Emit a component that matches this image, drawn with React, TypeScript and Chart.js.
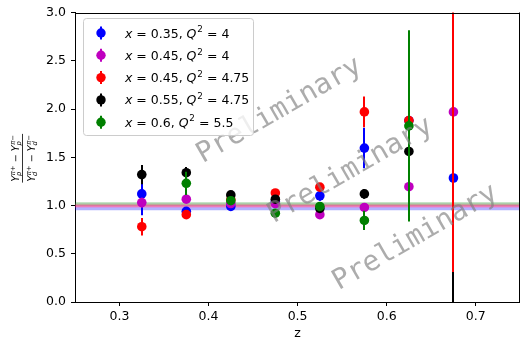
import React, { useEffect, useRef } from 'react';
import { Chart, registerables } from 'chart.js';

Chart.register(...registerables);

// ---- data ----
const zValues = [0.325, 0.375, 0.425, 0.475, 0.525, 0.575, 0.625, 0.675];

const seriesX = ['0.35', '0.45', '0.45', '0.55', '0.6'];
const seriesQ2 = ['4', '4', '4.75', '4.75', '5.5'];
const seriesColors = ['#0000ff', '#bf00bf', '#ff0000', '#000000', '#008000'];

const blueY = [1.12, 0.94, 0.99, 1.04, 1.10, 1.595, 1.88, 1.285];
const blueErr = [0.22, 0.04, 0.03, 0.04, 0.05, 0.21, 0.5, 0.8];
const magentaY = [1.03, 1.065, 1.02, 1.02, 0.905, 0.98, 1.195, 1.97];
const magentaErr = [0.05, 0.04, 0.03, 0.03, 0.03, 0.04, 0.3, 1.0];
const redY = [0.78, 0.905, 1.06, 1.13, 1.19, 1.97, 1.88, 3.4];
const redErr = [0.09, 0.03, 0.03, 0.03, 0.03, 0.16, 0.6, 3.6];
const blackY = [1.32, 1.34, 1.11, 1.065, 0.97, 1.12, 1.56, -1.2];
const blackErr = [0.1, 0.06, 0.03, 0.03, 0.03, 0.05, 0.5, 1.51];
const greenY: (number | null)[] = [null, 1.23, 1.05, 0.92, 0.99, 0.845, 1.825, null];
const greenErr: (number | null)[] = [null, 0.12, 0.03, 0.04, 0.04, 0.1, 0.99, null];

const seriesY = [blueY, magentaY, redY, blackY, greenY];
const seriesErr = [blueErr, magentaErr, redErr, blackErr, greenErr];

// reference bands near 1 (one per series)
const bandLevels = [0.965, 0.988, 0.997, 1.008, 1.02];

const xTicks = [0.3, 0.4, 0.5, 0.6, 0.7];
const yTicks = [0, 0.5, 1.0, 1.5, 2.0, 2.5, 3.0];
const xLabel = 'z';
const watermarkText = 'Preliminary';

// ---- math text helper ----
type Part = { t: string; it?: boolean; sup?: string; sub?: string };
const FAM = '"DejaVu Sans"';

function mathWidth(ctx: CanvasRenderingContext2D, parts: Part[], size: number) {
  let w = 0;
  for (const p of parts) {
    ctx.font = `${p.it ? 'italic ' : ''}${size}px ${FAM}`;
    w += ctx.measureText(p.t).width;
    if (p.sup || p.sub) {
      ctx.font = `italic ${size * 0.7}px ${FAM}`;
      const a = p.sup ? ctx.measureText(p.sup).width : 0;
      const b = p.sub ? ctx.measureText(p.sub).width : 0;
      w += Math.max(a, b) + size * 0.08;
    }
  }
  return w;
}

function drawMath(ctx: CanvasRenderingContext2D, parts: Part[], x: number, y: number, size: number, scriptItalic = false) {
  let cx = x;
  ctx.textAlign = 'left';
  ctx.textBaseline = 'alphabetic';
  for (const p of parts) {
    ctx.font = `${p.it ? 'italic ' : ''}${size}px ${FAM}`;
    ctx.fillText(p.t, cx, y);
    let w = ctx.measureText(p.t).width;
    if (p.sup || p.sub) {
      const ss = size * 0.7;
      ctx.font = `${scriptItalic ? 'italic ' : ''}${ss}px ${FAM}`;
      let sw = 0;
      if (p.sup) {
        ctx.fillText(p.sup, cx + w + size * 0.06, y - size * 0.42);
        sw = Math.max(sw, ctx.measureText(p.sup).width);
      }
      if (p.sub) {
        ctx.fillText(p.sub, cx + w - size * 0.02, y + size * 0.24);
        sw = Math.max(sw, ctx.measureText(p.sub).width);
      }
      w += sw + size * 0.08;
    }
    cx += w;
  }
}

// ---- plugins ----
const bandsPlugin = {
  id: 'bands',
  beforeDatasetsDraw(chart: any) {
    const { ctx, chartArea: ca, scales } = chart;
    ctx.save();
    ctx.beginPath();
    ctx.rect(ca.left, ca.top, ca.right - ca.left, ca.bottom - ca.top);
    ctx.clip();
    const order = [4, 3, 2, 1, 0];
    order.forEach((i) => {
      const py = scales.y.getPixelForValue(bandLevels[i]);
      ctx.globalAlpha = 0.3;
      ctx.strokeStyle = seriesColors[i] === '#000000' ? '#808080' : seriesColors[i];
      ctx.lineWidth = 2.6;
      ctx.beginPath();
      ctx.moveTo(ca.left, py);
      ctx.lineTo(ca.right, py);
      ctx.stroke();
    });
    ctx.restore();
  },
};

const errorBarPlugin = {
  id: 'errbars',
  beforeDatasetDraw(chart: any, args: any) {
    const ds: any = chart.data.datasets[args.index];
    const { ctx, chartArea: ca, scales } = chart;
    ctx.save();
    ctx.beginPath();
    ctx.rect(ca.left, ca.top, ca.right - ca.left, ca.bottom - ca.top);
    ctx.clip();
    ctx.strokeStyle = ds.seriesColor;
    ctx.lineWidth = 2;
    ds.data.forEach((p: any) => {
      const px = Math.round(scales.x.getPixelForValue(p.x));
      ctx.beginPath();
      ctx.moveTo(px, scales.y.getPixelForValue(p.y - p.err));
      ctx.lineTo(px, scales.y.getPixelForValue(p.y + p.err));
      ctx.stroke();
    });
    ctx.restore();
  },
};

const watermarkPlugin = {
  id: 'watermark',
  afterDatasetsDraw(chart: any) {
    const { ctx } = chart;
    const anchors = [
      [283, 117],
      [354, 177],
      [419, 244],
    ];
    ctx.save();
    ctx.fillStyle = 'rgba(128,128,128,0.65)';
    ctx.font = `28px "DejaVu Sans Mono"`;
    ctx.textAlign = 'center';
    ctx.textBaseline = 'alphabetic';
    anchors.forEach(([ax, ay]) => {
      ctx.save();
      ctx.translate(ax, ay);
      ctx.rotate((-30 * Math.PI) / 180);
      ctx.fillText(watermarkText, 0, 0);
      ctx.restore();
    });
    ctx.restore();
  },
};

const decorPlugin = {
  id: 'decor',
  afterDraw(chart: any) {
    const { ctx, chartArea: ca } = chart;
    ctx.save();
    // top spine
    ctx.strokeStyle = '#000';
    ctx.lineWidth = 1;
    ctx.beginPath();
    ctx.moveTo(ca.left, Math.round(ca.top) + 0.5);
    ctx.lineTo(ca.right, Math.round(ca.top) + 0.5);
    ctx.stroke();
    ctx.beginPath();
    ctx.moveTo(Math.round(ca.right) - 0.5, ca.top);
    ctx.lineTo(Math.round(ca.right) - 0.5, ca.bottom);
    ctx.stroke();

    // x label
    ctx.fillStyle = '#000';
    ctx.font = `12.5px ${FAM}`;
    ctx.textAlign = 'center';
    ctx.textBaseline = 'alphabetic';
    ctx.fillText(xLabel, (ca.left + ca.right) / 2, 337);

    // y label (fraction)
    const num: Part[] = [
      { t: 'Y', it: true, sup: 'π+', sub: 'p' },
      { t: ' − ' },
      { t: 'Y', it: true, sup: 'π−', sub: 'p' },
    ];
    const den: Part[] = [
      { t: 'Y', it: true, sup: 'π+', sub: 'd' },
      { t: ' − ' },
      { t: 'Y', it: true, sup: 'π−', sub: 'd' },
    ];
    const fs = 9.6;
    ctx.save();
    ctx.translate(22.5, (ca.top + ca.bottom) / 2 + 1);
    ctx.rotate(-Math.PI / 2);
    const wn = mathWidth(ctx, num, fs);
    const wd = mathWidth(ctx, den, fs);
    const wb = Math.max(wn, wd) + 2;
    drawMath(ctx, num, -wn / 2, -3.8, fs, true);
    drawMath(ctx, den, -wd / 2, 12.4, fs, true);
    ctx.strokeStyle = '#000';
    ctx.lineWidth = 0.8;
    ctx.beginPath();
    ctx.moveTo(-wb / 2, 0);
    ctx.lineTo(wb / 2, 0);
    ctx.stroke();
    ctx.restore();

    // legend
    const lx = 83.5, ly = 18.5, lw = 170, lh = 117, r = 3;
    ctx.fillStyle = 'rgba(255,255,255,0.8)';
    ctx.strokeStyle = '#cccccc';
    ctx.lineWidth = 1;
    ctx.beginPath();
    ctx.moveTo(lx + r, ly);
    ctx.lineTo(lx + lw - r, ly);
    ctx.arcTo(lx + lw, ly, lx + lw, ly + r, r);
    ctx.lineTo(lx + lw, ly + lh - r);
    ctx.arcTo(lx + lw, ly + lh, lx + lw - r, ly + lh, r);
    ctx.lineTo(lx + r, ly + lh);
    ctx.arcTo(lx, ly + lh, lx, ly + lh - r, r);
    ctx.lineTo(lx, ly + r);
    ctx.arcTo(lx, ly, lx + r, ly, r);
    ctx.closePath();
    ctx.fill();
    ctx.stroke();

    seriesColors.forEach((c, i) => {
      const cy = 33 + i * 22.3;
      ctx.strokeStyle = c;
      ctx.fillStyle = c;
      ctx.lineWidth = 2;
      ctx.beginPath();
      ctx.moveTo(101, cy - 6.5);
      ctx.lineTo(101, cy + 6.5);
      ctx.stroke();
      ctx.beginPath();
      ctx.arc(101, cy, 4.7, 0, Math.PI * 2);
      ctx.fill();
      ctx.fillStyle = '#000';
      const parts: Part[] = [
        { t: 'x', it: true },
        { t: ' = ' + seriesX[i] + ', ' },
        { t: 'Q', it: true, sup: '2' },
        { t: ' = ' + seriesQ2[i] },
      ];
      drawMath(ctx, parts, 125, cy + 4.5, 12.5);
    });
    ctx.restore();
  },
};

export default function App() {
  const ref = useRef<HTMLCanvasElement | null>(null);
  useEffect(() => {
    document.body.style.margin = '0';
    const canvas = ref.current;
    if (!canvas) return;
    Chart.defaults.font.family = FAM;
    const datasets = seriesColors.map((c, i) => ({
      label: `x=${seriesX[i]}, Q2=${seriesQ2[i]}`,
      seriesColor: c,
      data: zValues
        .map((z, k) => ({ x: z, y: seriesY[i][k] as number, err: seriesErr[i][k] as number }))
        .filter((p) => p.y !== null && p.y !== undefined),
      pointRadius: 4.8,
      pointHoverRadius: 4.8,
      pointBackgroundColor: c,
      pointBorderColor: c,
      pointBorderWidth: 0,
      showLine: false,
      order: -i,
    }));
    const tickFont = { family: FAM, size: 12.5 };
    const chart = new Chart(canvas, {
      type: 'scatter',
      data: { datasets: datasets as any },
      plugins: [bandsPlugin, errorBarPlugin, watermarkPlugin, decorPlugin],
      options: {
        responsive: false,
        animation: false,
        events: [],
        layout: { padding: { top: 11, right: 2, left: 0, bottom: 0 } },
        plugins: { legend: { display: false }, tooltip: { enabled: false } },
        scales: {
          x: {
            type: 'linear',
            min: 0.25,
            max: 0.75,
            afterBuildTicks: (s: any) => {
              s.ticks = xTicks.map((v) => ({ value: v }));
            },
            afterFit: (s: any) => {
              s.height = 38;
            },
            ticks: {
              color: '#000',
              font: tickFont,
              padding: 3,
              maxRotation: 0,
              autoSkip: false,
              callback: (v: any) => Number(v).toFixed(1),
            },
            grid: { drawOnChartArea: false, drawTicks: true, tickLength: 4, color: '#000', lineWidth: 1 },
            border: { display: true, color: '#000', width: 1 },
          },
          y: {
            type: 'linear',
            min: 0,
            max: 3,
            afterBuildTicks: (s: any) => {
              s.ticks = yTicks.map((v) => ({ value: v }));
            },
            afterFit: (s: any) => {
              s.width = 75;
            },
            ticks: {
              color: '#000',
              font: tickFont,
              padding: 5,
              autoSkip: false,
              callback: (v: any) => Number(v).toFixed(1),
            },
            grid: { drawOnChartArea: false, drawTicks: true, tickLength: 4, color: '#000', lineWidth: 1 },
            border: { display: true, color: '#000', width: 1 },
          },
        },
      } as any,
    });
    return () => chart.destroy();
  }, []);
  return (
    <div style={{ width: 520, height: 340, overflow: 'hidden', position: 'relative' }}>
      <canvas ref={ref} width={525} height={340} style={{ width: 525, height: 340, display: 'block' }} />
    </div>
  );
}
